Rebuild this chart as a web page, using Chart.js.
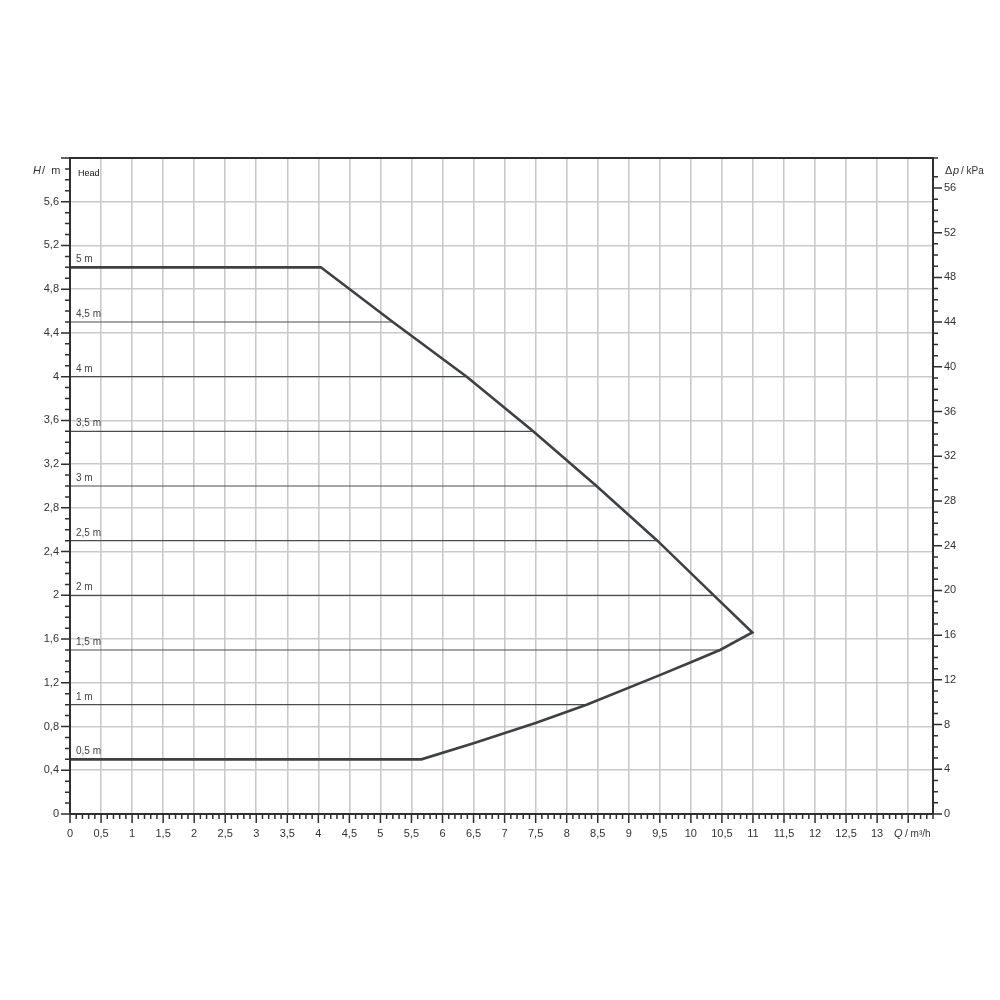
<!DOCTYPE html>
<html>
<head>
<meta charset="utf-8">
<script src="https://cdn.jsdelivr.net/npm/chart.js@4/dist/chart.umd.min.js"></script>
<style>
  html, body { margin: 0; padding: 0; background: #fff; }
  #wrap { width: 1000px; height: 1000px; }
</style>
</head>
<body>
<div id="wrap"><canvas id="c" width="1000" height="1000"></canvas></div>
<script>
// ---- data ----
const qMaxCurve = [0, 4.04, 5.2, 6.39, 7.46, 8.48, 9.46, 10.37, 10.99, 10.47, 10.01, 9.5, 8.32, 7.51, 6.5, 5.66, 0];
const hMaxCurve = [5, 5, 4.5, 4.0, 3.5, 3.0, 2.5, 2.0, 1.66, 1.5, 1.39, 1.27, 1.0, 0.835, 0.647, 0.5, 0.5];

const headLevels    = [4.5, 4, 3.5, 3, 2.5, 2, 1.5, 1];
const headLevelEnds = [5.2, 6.39, 7.46, 8.48, 9.46, 10.37, 10.47, 8.32];

const levelLabelHeights = [5, 4.5, 4, 3.5, 3, 2.5, 2, 1.5, 1, 0.5];
const levelLabelTexts   = ['5 m', '4,5 m', '4 m', '3,5 m', '3 m', '2,5 m', '2 m', '1,5 m', '1 m', '0,5 m'];

const qMin = 0, qMax = 13.9, qStep = 0.1, qLabelStep = 0.5, qLabelMax = 13;
const hMin = 0, hMax = 6.0, hStep = 0.1, hLabelStep = 0.4, hLabelMax = 5.6;
const kPaPerM = 9.78;
const pStep = 1, pLabelStep = 4, pLabelMax = 56;

const lineColor = '#3d4145';
const gridColor = '#c9c9c9';
const axisColor = '#2f2f2f';
const textColor = '#333333';

function isMult(v, s) { const r = v / s; return Math.abs(r - Math.round(r)) < 1e-6; }
function fmt(v) { return String(Math.round(v * 10) / 10).replace('.', ','); }

const datasets = [{
  data: qMaxCurve.map((q, i) => ({ x: q, y: hMaxCurve[i] })),
  borderColor: lineColor, borderWidth: 2.6, showLine: true, pointRadius: 0, tension: 0, fill: false
}];
headLevels.forEach((h, i) => {
  datasets.push({
    data: [{ x: 0, y: h }, { x: headLevelEnds[i], y: h }],
    borderColor: '#4a4d50', borderWidth: 1.1, showLine: true, pointRadius: 0, fill: false
  });
});

const decorPlugin = {
  id: 'decor',
  afterDraw(chart) {
    const ctx = chart.ctx;
    const a = chart.chartArea;
    const xs = chart.scales.x, ys = chart.scales.y, y2 = chart.scales.y2;
    ctx.save();
    // frame
    ctx.strokeStyle = axisColor; ctx.lineWidth = 2;
    ctx.strokeRect(a.left, a.top, a.right - a.left, a.bottom - a.top);
    // tick marks
    ctx.lineWidth = 1.5;
    ctx.beginPath();
    xs.ticks.forEach(t => {
      const px = xs.getPixelForValue(t.value);
      const len = isMult(t.value, qLabelStep) ? 9 : 5;
      ctx.moveTo(px, a.bottom); ctx.lineTo(px, a.bottom + len);
    });
    ys.ticks.forEach(t => {
      const py = ys.getPixelForValue(t.value);
      const len = isMult(t.value, hLabelStep) ? 9 : 5;
      ctx.moveTo(a.left, py); ctx.lineTo(a.left - len, py);
    });
    y2.ticks.forEach(t => {
      const py = y2.getPixelForValue(t.value);
      const len = isMult(t.value, pLabelStep) ? 9 : 5;
      ctx.moveTo(a.right, py); ctx.lineTo(a.right + len, py);
    });
    ctx.stroke();
    // level labels
    ctx.fillStyle = '#444';
    ctx.font = '10px "Liberation Sans", Arial, sans-serif';
    ctx.textAlign = 'left'; ctx.textBaseline = 'alphabetic';
    levelLabelHeights.forEach((h, i) => {
      ctx.fillText(levelLabelTexts[i], xs.getPixelForValue(0) + 6, ys.getPixelForValue(h) - 5);
    });
    // Head
    ctx.fillStyle = '#111';
    ctx.font = '9px "Liberation Sans", Arial, sans-serif';
    ctx.fillText('Head', a.left + 8, a.top + 18);
    // axis titles
    ctx.fillStyle = textColor;
    ctx.font = 'italic 11px "Liberation Sans", Arial, sans-serif';
    ctx.textAlign = 'left';
    ctx.fillText('H', 33, a.top + 16);
    ctx.font = '11px "Liberation Sans", Arial, sans-serif';
    ctx.fillText('/  m', 42, a.top + 16);
    // Δp / kPa
    ctx.fillText('Δ', a.right + 12, a.top + 16);
    ctx.font = 'italic 11px "Liberation Sans", Arial, sans-serif';
    ctx.fillText('p', a.right + 20, a.top + 16);
    ctx.font = '10px "Liberation Sans", Arial, sans-serif';
    ctx.fillText('/ kPa', a.right + 28, a.top + 16);
    // Q / m³/h
    const qy = a.bottom + 23;
    ctx.font = 'italic 11px "Liberation Sans", Arial, sans-serif';
    ctx.fillText('Q', 894, qy);
    ctx.font = '10px "Liberation Sans", Arial, sans-serif';
    ctx.fillText('/ m³/h', 905, qy);
    ctx.restore();
  }
};

const tickFont = { family: '"Liberation Sans", Arial, sans-serif', size: 11 };

new Chart(document.getElementById('c'), {
  type: 'scatter',
  data: { datasets },
  options: {
    responsive: false,
    animation: false,
    layout: { padding: { left: 0, right: 0, top: 158, bottom: 146 } },
    plugins: { legend: { display: false }, tooltip: { enabled: false } },
    scales: {
      x: {
        type: 'linear', min: qMin, max: qMax,
        ticks: {
          stepSize: qStep, autoSkip: false, maxRotation: 0, color: textColor, font: tickFont, padding: 4,
          callback: v => (isMult(v, qLabelStep) && v <= qLabelMax + 1e-6) ? fmt(v) : ''
        },
        grid: {
          color: c => (isMult(c.tick.value, qLabelStep) ? gridColor : 'rgba(0,0,0,0)'),
          lineWidth: 1.6, tickLength: 9, tickColor: 'rgba(0,0,0,0)'
        },
        border: { display: false },
        afterFit: s => { s.height = 40; }
      },
      y: {
        type: 'linear', position: 'left', min: hMin, max: hMax,
        ticks: {
          stepSize: hStep, autoSkip: false, color: textColor, font: tickFont, padding: 2,
          callback: v => (isMult(v, hLabelStep) && v <= hLabelMax + 1e-6) ? fmt(v) : ''
        },
        grid: {
          color: c => (isMult(c.tick.value, hLabelStep) ? gridColor : 'rgba(0,0,0,0)'),
          lineWidth: 1.6, tickLength: 9, tickColor: 'rgba(0,0,0,0)'
        },
        border: { display: false },
        afterFit: s => { s.width = 70; }
      },
      y2: {
        type: 'linear', position: 'right', min: hMin * kPaPerM, max: hMax * kPaPerM,
        ticks: {
          stepSize: pStep, autoSkip: false, color: textColor, font: tickFont, padding: 2,
          callback: v => (isMult(v, pLabelStep) && v <= pLabelMax + 1e-6) ? String(Math.round(v)) : ''
        },
        grid: { drawOnChartArea: false, tickLength: 9, tickColor: 'rgba(0,0,0,0)' },
        border: { display: false },
        afterFit: s => { s.width = 67; }
      }
    }
  },
  plugins: [decorPlugin]
});
</script>
</body>
</html>
